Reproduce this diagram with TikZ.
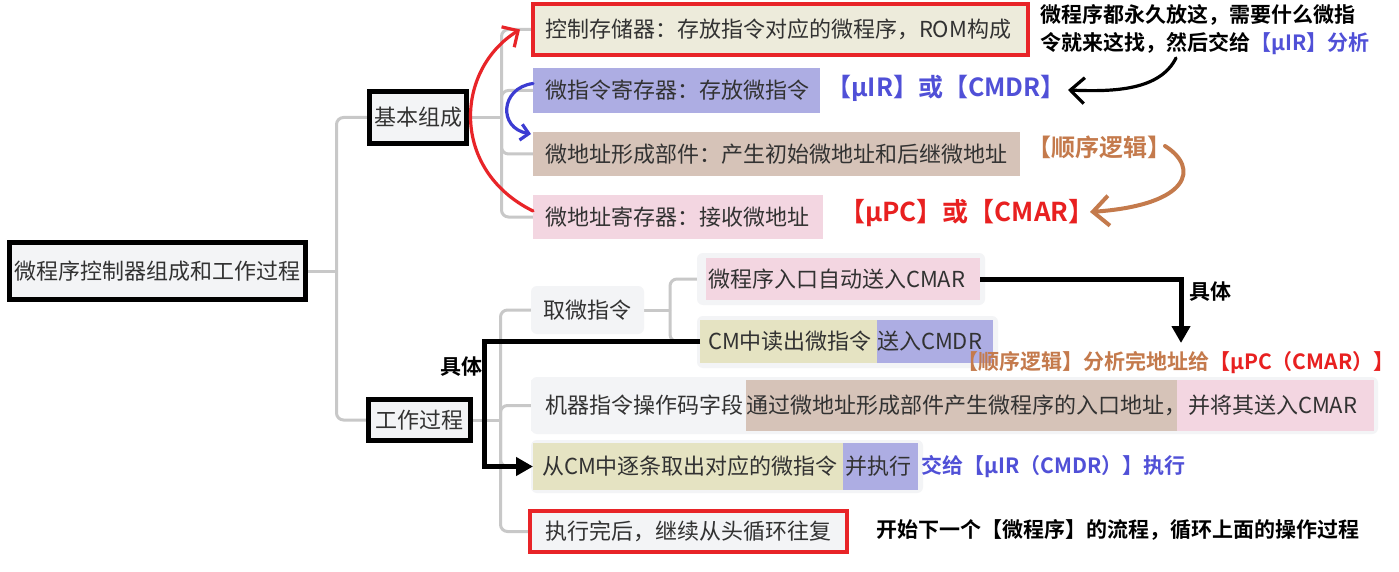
\documentclass[tikz,border=0pt]{standalone}
\usepackage{fontspec}
\setmainfont{Noto Sans CJK SC}[BoldFont={Noto Sans CJK SC Bold}]
\usetikzlibrary{arrows.meta,backgrounds}
\definecolor{txtc}{RGB}{50,50,50}
\definecolor{linec}{RGB}{200,200,200}
\definecolor{grayb}{RGB}{243,244,246}
\definecolor{beigeA}{RGB}{237,235,219}
\definecolor{beigeB}{RGB}{229,227,194}
\definecolor{blueb}{RGB}{173,173,227}
\definecolor{tanb}{RGB}{214,195,184}
\definecolor{pinkb}{RGB}{243,214,225}
\definecolor{redb}{RGB}{232,36,40}
\definecolor{annblue}{RGB}{80,80,215}
\definecolor{annbrown}{RGB}{196,122,76}
\definecolor{annred}{RGB}{232,32,32}
\definecolor{arrblue}{RGB}{60,60,210}
\newcommand\mybx[3]{\makebox[#1pt][l]{\hspace*{#2pt}#3}}
\newcommand\mybc[2]{\makebox[#1pt][c]{#2}}
\begin{document}
\begin{tikzpicture}[x=1pt,y=-1pt,
  bx/.style={anchor=north west, inner sep=0pt, outer sep=0pt, font=\fontsize{22}{26}\selectfont, text=txtc},
  thickb/.style={draw=black, line width=5.5pt},
  conn/.style={draw=linec, line width=3pt, rounded corners=7pt},
  ann/.style={anchor=west, inner sep=0pt, font=\bfseries\fontsize{21}{28}\selectfont},
  pen/.style={line width=3.2pt, line cap=round, line join=round},
  bigarrow/.style={line width=5pt, -{Triangle[length=17pt,width=18pt]}},
]
\useasboundingbox (0,0) rectangle (1399,572);

% decorative outer node backgrounds
\fill[grayb, rounded corners=6pt] (697,253) rectangle (985,305);
\fill[grayb, rounded corners=6pt] (697,316) rectangle (998,368);
\fill[grayb, rounded corners=6pt] (531,377) rectangle (1378,434);
\fill[grayb, rounded corners=6pt] (531,440) rectangle (923,493);

% main nodes
\node[bx, thickb, fill=grayb, minimum height=57pt] (root) at (9.5,242.5) {\mybc{296}{微程序控制器组成和工作过程}};
\node[bx, thickb, fill=grayb, minimum height=52pt] (jb) at (369.5,91.5) {\mybc{97}{基本组成}};
\node[bx, thickb, fill=grayb, minimum height=41pt] (gz) at (368.5,399.5) {\mybc{102}{工作过程}};

\node[bx, fill=beigeA, draw=redb, line width=4pt, minimum height=51pt] (c1) at (533,4) {\mybx{495}{12}{控制存储器：存放指令对应的微程序，ROM构成}};
\node[bx, fill=blueb, minimum height=45pt] (c2) at (533,68) {\mybx{287}{12}{微指令寄存器：存放微指令}};
\node[bx, fill=tanb, minimum height=44pt] (c3) at (533,132) {\mybx{487}{12}{微地址形成部件：产生初始微地址和后继微地址}};
\node[bx, fill=pinkb, minimum height=44pt] (c4) at (533,195) {\mybx{290}{12}{微地址寄存器：接收微地址}};

\node[bx, fill=grayb, rounded corners=6pt, minimum height=48pt] (w1) at (531,286) {\mybc{113}{取微指令}};
\node[bx, fill=pinkb, minimum height=42pt] (w1a) at (706,258) {\mybx{274}{2}{微程序入口自动送入CMAR}};
\node[bx, fill=beigeB, minimum height=43pt] (w1b) at (700,320) {\mybx{177}{8}{CM中读出微指令}};
\node[bx, fill=blueb, minimum height=43pt] (w1c) at (877,320) {\mybx{116}{0}{送入CMDR}};
\node[bx, fill=grayb, minimum height=51pt] (w2) at (531,380) {\mybx{215}{14}{机器指令操作码字段}};
\node[bx, fill=tanb, minimum height=51pt] (w2b) at (746,380) {\mybx{431}{0}{通过微地址形成部件产生微程序的入口地址，}};
\node[bx, fill=pinkb, minimum height=51pt] (w2c) at (1177,380) {\mybx{197}{11}{并将其送入CMAR}};
\node[bx, fill=beigeB, minimum height=47pt] (w3) at (533,443) {\mybx{310}{9}{从CM中逐条取出对应的微指令}};
\node[bx, fill=blueb, minimum height=47pt] (w3b) at (843,443) {\mybx{75}{2}{并执行}};
\node[bx, fill=grayb, draw=redb, line width=4pt, minimum height=41pt] (w4) at (530,511) {\mybx{317}{15}{执行完后，继续从头循环往复}};

% connectors
\begin{scope}[on background layer]
\fill[white] (0,0) rectangle (1399,572);
\draw[conn] (root.east) -- ++(31,0) coordinate (h0);
\draw[conn] (h0) |- (jb.west);
\draw[conn] (h0) |- (gz.west);
\draw[conn] (jb.east) -- ++(35,0) coordinate (h1);
\foreach \n in {c1,c2,c3,c4} \draw[conn] (h1) |- (\n.west);
\draw[conn] (gz.east) -- ++(30,0) coordinate (h2);
\foreach \n in {w1,w2,w3,w4} \draw[conn] (h2) |- (\n.west);
\draw[conn] (w1.east) -- ++(26,0) coordinate (h3);
\draw[conn] (h3) |- (w1a.west);
\draw[conn] (h3) |- (w1b.west);
\end{scope}

% annotations
\node[ann, text=annblue, font=\bfseries\fontsize{25}{28}\selectfont] (a1) at (826,88) {【μIR】或【CMDR】};
\node[anchor=north west, inner sep=0pt, align=left, font=\bfseries\fontsize{21}{28}\selectfont] (a2) at (1040,4) {微程序都永久放这，需要什么微指\\令就来这找，然后交给\textcolor{annblue}{【μIR】分析}};
\node[ann, text=annbrown, font=\bfseries\fontsize{24}{28}\selectfont] (a3) at (1027,147) {【顺序逻辑】};
\node[ann, text=annred, font=\bfseries\fontsize{26}{28}\selectfont] (a4) at (839,213) {【μPC】或【CMAR】};
\node[ann] (a5) at (1189,292) {具体};
\node[ann, text=annbrown] (a6) at (957,363) {【顺序逻辑】分析完地址给\textcolor{annred}{【μPC（CMAR）】}};
\node[ann] (a7) at (440,367) {具体};
\node[ann, text=annblue] (a8) at (921,467) {交给【μIR（CMDR）】执行};
\node[ann] (a9) at (876,530) {开始下一个【微程序】的流程，循环上面的操作过程};

% hand-drawn arrows
\draw[pen, redb, -{Straight Barb[length=12pt,width=24pt]}] ([yshift=6pt]c4.west) .. controls (450,170) and (455,70) .. ([xshift=-13pt]c1.west);
\draw[pen, arrblue, -{Straight Barb[length=8pt,width=16pt]}] ([yshift=7pt]c2.west) .. controls (500,88) and (498,128) .. ([yshift=20pt,xshift=-2pt]c3.west);
\coordinate (p1) at (1176,58);
\coordinate (p2) at (1068,90);
\draw[pen, -{Straight Barb[length=14pt,width=26pt]}] (p1) .. controls (1160,90) and (1115,92) .. (p2);
\coordinate (q1) at (1165,146);
\coordinate (q2) at (1090,212);
\draw[pen, line width=4pt, annbrown, -{Straight Barb[length=16pt,width=30pt]}] (q1) .. controls (1200,168) and (1190,205) .. (q2);

% thick black "具体" connectors
\coordinate (t1) at (1181,343);
\draw[bigarrow] (w1a.east) -| (t1);
\draw[bigarrow] (w1b.west) -- ++(-216,0) |- (w3.west);
\end{tikzpicture}
\end{document}
